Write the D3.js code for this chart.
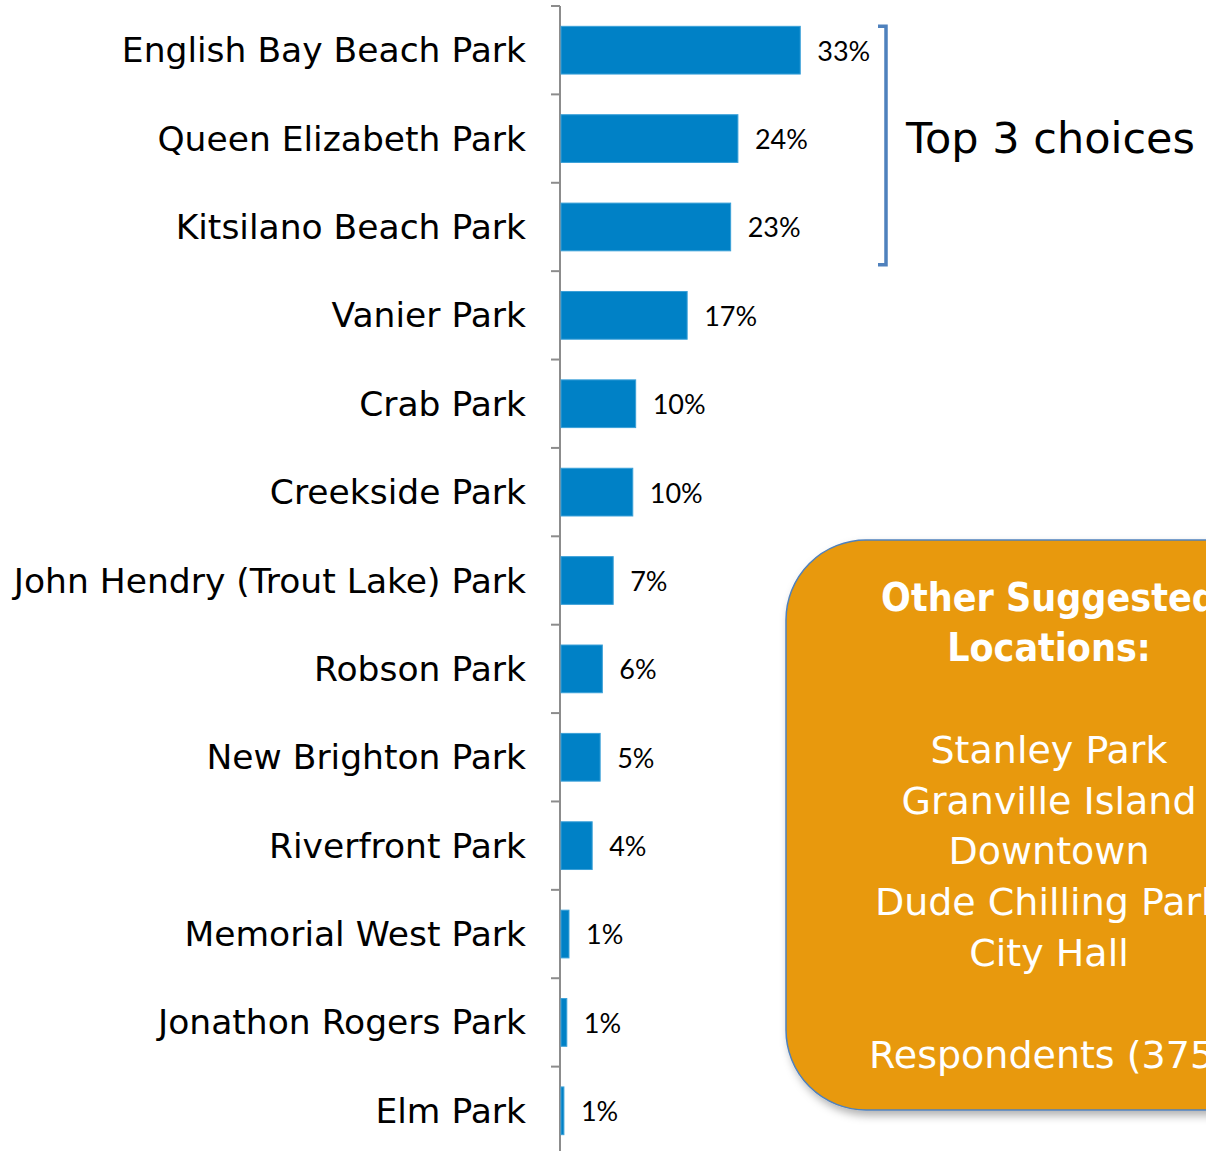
<!DOCTYPE html>
<html>
<head>
<meta charset="utf-8">
<script src="https://cdn.jsdelivr.net/npm/d3@7"></script>
<style>
  body { margin: 0; background: #fff; }
  svg { display: block; }
</style>
</head>
<body>
<div id="chart"></div>
<script>
// park names, top to bottom
const parks = [
  "English Bay Beach Park",
  "Queen Elizabeth Park",
  "Kitsilano Beach Park",
  "Vanier Park",
  "Crab Park",
  "Creekside Park",
  "John Hendry (Trout Lake) Park",
  "Robson Park",
  "New Brighton Park",
  "Riverfront Park",
  "Memorial West Park",
  "Jonathon Rogers Park",
  "Elm Park"
];
// share of respondents
const shares = [0.330, 0.244, 0.234, 0.174, 0.103, 0.099, 0.072, 0.057, 0.054, 0.043, 0.011, 0.008, 0.004];
// rounded labels as printed
const shareLabels = ["33%", "24%", "23%", "17%", "10%", "10%", "7%", "6%", "5%", "4%", "1%", "1%", "1%"];

const otherTitle = ["Other Suggested", "Locations:"];
const otherPlaces = ["Stanley Park", "Granville Island", "Downtown", "Dude Chilling Park", "City Hall"];
const respondents = "Respondents (375)";

const width = 1206, height = 1151;
const labelFont = "'DejaVu Sans', sans-serif";
const condFont = "'DejaVu Sans Condensed', 'DejaVu Sans', sans-serif";

const svg = d3.select("#chart").append("svg")
  .attr("width", width)
  .attr("height", height);

const defs = svg.append("defs");
const shadow = defs.append("filter").attr("id", "shadow")
  .attr("x", "-10%").attr("y", "-10%").attr("width", "130%").attr("height", "130%");
shadow.append("feDropShadow")
  .attr("dx", 3).attr("dy", 5).attr("stdDeviation", 4)
  .attr("flood-color", "#000").attr("flood-opacity", 0.3);

const x = d3.scaleLinear().domain([0, 0.40]).range([561, 851]);
const y = d3.scaleBand().domain(parks).range([6, 1155]).paddingInner(0.46).paddingOuter(0.23);

// axis with ticks between categories
const axisG = svg.append("g").attr("transform", "translate(560,0)");
axisG.append("line")
  .attr("y1", 6).attr("y2", height)
  .attr("stroke", "#8c8c8c").attr("stroke-width", 2);
const boundaries = d3.range(parks.length + 1).map(i => 6 + i * (1149 / parks.length));
axisG.selectAll("line.tick")
  .data(boundaries)
  .join("line")
  .attr("class", "tick")
  .attr("x1", -9).attr("x2", 0)
  .attr("y1", d => d).attr("y2", d => d)
  .attr("stroke", "#8c8c8c").attr("stroke-width", 2);

// category labels
svg.selectAll("text.cat")
  .data(parks)
  .join("text")
  .attr("class", "cat")
  .attr("x", 526)
  .attr("y", d => y(d) + y.bandwidth() / 2)
  .attr("dy", "0.35em")
  .attr("text-anchor", "end")
  .style("font-family", labelFont)
  .style("font-size", "34.5px")
  .style("fill", "#000")
  .text(d => d);

// bars
svg.selectAll("rect.bar")
  .data(shares)
  .join("rect")
  .attr("class", "bar")
  .attr("x", x(0))
  .attr("y", (d, i) => y(parks[i]))
  .attr("width", d => x(d) - x(0))
  .attr("height", y.bandwidth())
  .attr("fill", "#0081c6")
  .attr("stroke", "#3aa0d8")
  .attr("stroke-width", 1);

// value labels
svg.selectAll("text.val")
  .data(shares)
  .join("text")
  .attr("class", "val")
  .attr("x", d => x(d) + 17)
  .attr("y", (d, i) => y(parks[i]) + y.bandwidth() / 2 + 1)
  .attr("dy", "0.35em")
  .style("font-family", "Lato, 'Liberation Sans', sans-serif")
  .style("font-size", "27px")
  .style("fill", "#000")
  .text((d, i) => shareLabels[i]);

// bracket for top 3
const bTop = y(parks[0]), bBot = y(parks[2]) + y.bandwidth() + 14;
svg.append("path")
  .attr("d", `M878,${bTop} H886 V${bBot} H878`)
  .attr("fill", "none")
  .attr("stroke", "#4f81bd")
  .attr("stroke-width", 3.5);
svg.append("text")
  .attr("x", 906)
  .attr("y", 138)
  .attr("dy", "0.35em")
  .style("font-family", labelFont)
  .style("font-size", "43px")
  .style("fill", "#000")
  .text("Top 3 choices");

// other suggested locations box
svg.append("rect")
  .attr("x", 786).attr("y", 540)
  .attr("width", 520).attr("height", 570)
  .attr("rx", 80).attr("ry", 80)
  .attr("fill", "#e8990a")
  .attr("stroke", "#4f81bd")
  .attr("stroke-width", 1.5)
  .attr("filter", "url(#shadow)");

const boxLines = [
  ...otherTitle.map(t => ({ t, bold: true })),
  { t: "", bold: false },
  ...otherPlaces.map(t => ({ t, bold: false })),
  { t: "", bold: false },
  { t: respondents, bold: false }
];
svg.selectAll("text.box")
  .data(boxLines)
  .join("text")
  .attr("class", "box")
  .attr("x", 1049)
  .attr("y", (d, i) => 597 + i * 50.8)
  .attr("dy", "0.35em")
  .attr("text-anchor", "middle")
  .style("font-family", d => d.bold ? condFont : labelFont)
  .style("font-size", d => d.bold ? "39px" : "38px")
  .style("font-weight", d => d.bold ? "bold" : "normal")
  .style("fill", "#fff")
  .text(d => d.t);
</script>
</body>
</html>
